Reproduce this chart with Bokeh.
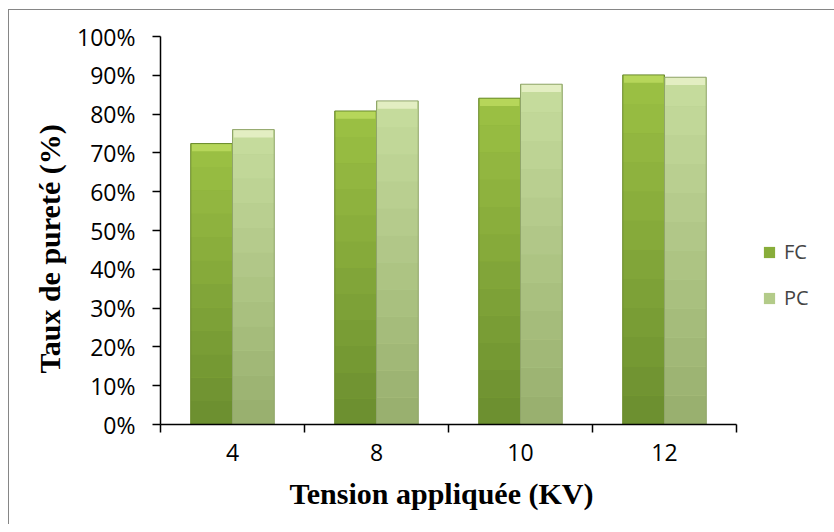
from bokeh.plotting import figure
from bokeh.models import (FixedTicker, NumeralTickFormatter, Legend, LegendItem,
                          Title, ColumnDataSource, Range1d)
from bokeh.embed import file_html
from bokeh.resources import INLINE

# Tension appliquée (KV) and purity rates for the two fractions
categories = ["4", "8", "10", "12"]
fc = [0.724, 0.808, 0.841, 0.901]
pc = [0.760, 0.834, 0.877, 0.895]
y_ticks = [0.0, 0.1, 0.2, 0.3, 0.4, 0.5, 0.6, 0.7, 0.8, 0.9, 1.0]

TICK_FONT = "Open Sans"
TITLE_FONT = "Liberation Serif"

FRAME_W = 674          # plotting area runs on to the right edge; the legend sits in it
PX_PER_CAT = 144
n_cat = len(categories)

p = figure(frame_width=FRAME_W, frame_height=388,
           x_range=Range1d(0, FRAME_W / PX_PER_CAT), y_range=Range1d(0, 1),
           output_backend="svg", toolbar_location=None,
           min_border_left=151, min_border_right=0, min_border_top=26, min_border_bottom=100)
p.margin = (9, 0, 0, 8)
p.styles = {"border-top": "1px solid #868686", "border-left": "1px solid #868686"}
p.outline_line_color = None
p.grid.grid_line_color = None
p.background_fill_color = "white"
p.border_fill_color = "white"

bar_w = 0.29
off = 0.145


def hex_mix(c1, c2, t):
    a = [int(c1[i:i + 2], 16) for i in (1, 3, 5)]
    b = [int(c2[i:i + 2], 16) for i in (1, 3, 5)]
    return "#" + "".join(f"{round(x + (y - x) * t):02x}" for x, y in zip(a, b))


def draw_series(vals, shift, base_col, bottom_col, top_col, bevel_col, edge_col):
    xs = [i + 0.5 + shift for i in range(len(vals))]
    src = ColumnDataSource(dict(x=xs, top=vals))
    base = p.vbar(x="x", top="top", bottom=0, width=bar_w, source=src,
                  fill_color=base_col, line_color=None)
    # vertical shading bands, darker toward the baseline
    n = 12
    for k in range(n):
        t = (k + 0.5) / n
        b_src = ColumnDataSource(dict(x=xs,
                                      bottom=[v * k / n for v in vals],
                                      top=[v * (k + 1) / n for v in vals]))
        p.vbar(x="x", bottom="bottom", top="top", width=bar_w, source=b_src,
               fill_color=hex_mix(bottom_col, top_col, t), line_color=None)
    # bevelled cap at the top of each bar
    cap = ColumnDataSource(dict(x=xs, top=vals, bottom=[v - 0.02 for v in vals]))
    p.vbar(x="x", bottom="bottom", top="top", width=bar_w * 0.94, source=cap,
           fill_color=bevel_col, line_color=None)
    p.vbar(x="x", top="top", bottom=0, width=bar_w, source=src,
           fill_color=None, line_color=edge_col, line_width=1)
    return base


r_fc = draw_series(fc, -off, "#88ad3a", "#6b8e2f", "#9cc144", "#b6d65a", "#6a8a2c")
r_pc = draw_series(pc, off, "#b3cb89", "#97ae6d", "#c7dd9e", "#e3eec2", "#90a56a")

# x axis: labels at category centres, ticks at category boundaries
p.xaxis.bounds = (0, n_cat)
p.xaxis.ticker = FixedTicker(ticks=[i + 0.5 for i in range(n_cat)],
                             minor_ticks=list(range(n_cat + 1)))
p.xaxis.major_label_overrides = {i + 0.5: c for i, c in enumerate(categories)}
p.xaxis.major_tick_line_color = None
p.xaxis.minor_tick_in = 0
p.xaxis.minor_tick_out = 8
p.xaxis.minor_tick_line_color = "black"
p.xaxis.minor_tick_line_width = 1.5
p.xaxis.major_label_standoff = 11
p.xaxis.axis_line_color = "black"
p.xaxis.axis_line_width = 1.5

p.yaxis.ticker = FixedTicker(ticks=y_ticks, minor_ticks=[])
p.yaxis.formatter = NumeralTickFormatter(format="0%")
p.yaxis.major_tick_in = 0
p.yaxis.major_tick_out = 8
p.yaxis.major_tick_line_width = 1.5
p.yaxis.major_label_standoff = 17
p.yaxis.axis_line_color = "black"
p.yaxis.axis_line_width = 1.5

for ax in (p.xaxis, p.yaxis):
    ax.major_label_text_font = TICK_FONT
    ax.major_label_text_font_size = "23px"
    ax.major_label_text_color = "black"

# axis titles
p.add_layout(Title(text="Tension appliquée (KV)", align="left", offset=129,
                   text_font=TITLE_FONT, text_font_style="bold", text_font_size="30px",
                   text_color="black", standoff=22), "below")
p.add_layout(Title(text="Taux de pureté (%)", align="left", offset=51,
                   text_font=TITLE_FONT, text_font_style="bold", text_font_size="30px",
                   text_color="black", standoff=18), "left")

legend = Legend(items=[LegendItem(label="FC", renderers=[r_fc]),
                       LegendItem(label="PC", renderers=[r_pc])],
                location=(602, 113), orientation="vertical",
                glyph_width=14, glyph_height=14, label_height=20, spacing=19,
                label_standoff=8, padding=0, margin=0,
                border_line_color=None, background_fill_alpha=0,
                label_text_font=TICK_FONT, label_text_font_size="20px")
p.add_layout(legend, "center")

open("out.html", "w").write(file_html(p, INLINE))
